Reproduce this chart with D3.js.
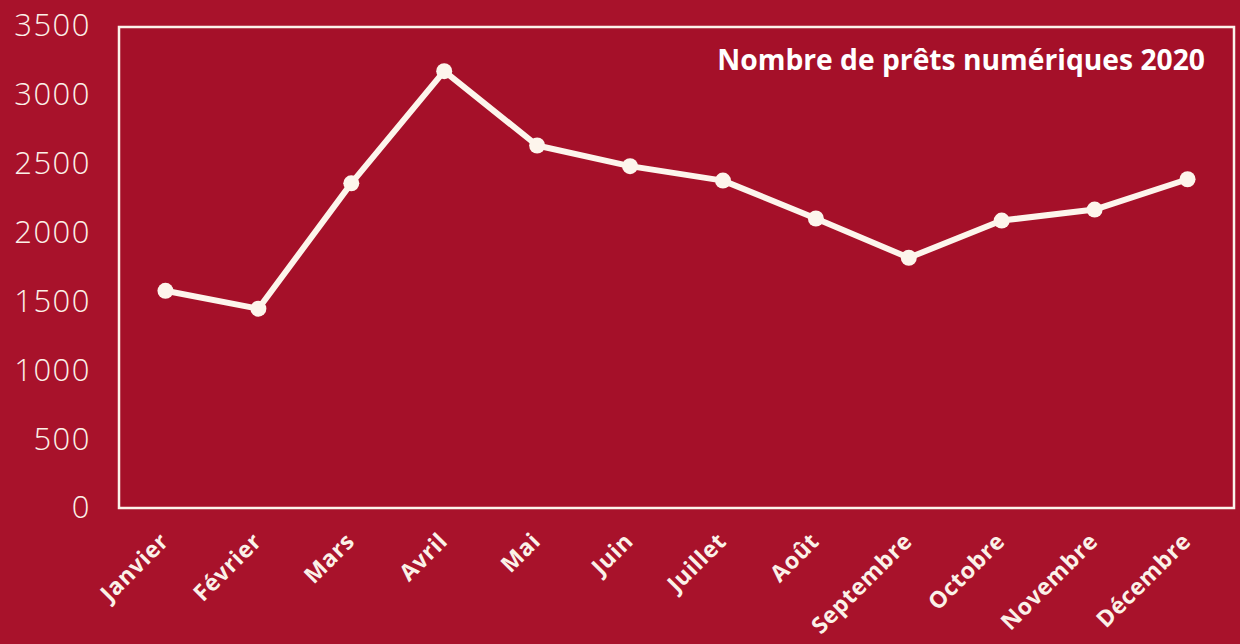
<!DOCTYPE html>
<html><head><meta charset="utf-8">
<script src="https://cdn.jsdelivr.net/npm/d3@7"></script>
<style>
html,body{margin:0;padding:0;background:#a7112a;}
svg{display:block;}
</style></head>
<body><svg id="c" width="1240" height="644"></svg>
<script>
const months = ["Janvier","Février","Mars","Avril","Mai","Juin","Juillet","Août","Septembre","Octobre","Novembre","Décembre"];
const loans = [1570, 1440, 2350, 3165, 2625, 2475, 2370, 2095, 1810, 2080, 2160, 2380];
const yTicks = [0, 500, 1000, 1500, 2000, 2500, 3000, 3500];
const title = "Nombre de prêts numériques 2020";

const svg = d3.select("#c");
const W = 1240, H = 644;
const box = {l:119, r:1234, t:27, b:508};

svg.append("rect").attr("width",W).attr("height",H).attr("fill","#a8122b");
svg.append("rect").attr("x",box.l).attr("y",box.t).attr("width",box.r-box.l).attr("height",box.b-box.t)
  .attr("fill","#a51029").attr("stroke","#fbf3ea").attr("stroke-width",2.5);

const x = d3.scaleBand().domain(months).range([box.l, box.r]).padding(0);
const y = d3.scaleLinear().domain([0,3500]).range([507, 25]);

// y axis
const yAxis = svg.append("g").attr("transform","translate(91,0)")
  .call(d3.axisLeft(y).tickValues(yTicks).tickSize(0).tickPadding(0).tickFormat(d3.format("d")));
yAxis.select(".domain").remove();
yAxis.selectAll("text").attr("fill","#fbf1e8").attr("font-family","'Open Sans'").attr("font-weight",300)
  .attr("font-size",31).attr("letter-spacing",1.5).attr("dy","0.35em").attr("text-anchor","end").attr("x",0);

// x axis
const xAxis = svg.append("g")
  .call(d3.axisBottom(x).tickSize(0).tickPadding(0));
xAxis.select(".domain").remove();
xAxis.selectAll(".tick").attr("transform", d => `translate(${x(d)+x.bandwidth()/2},0)`);
xAxis.selectAll("text").attr("fill","#fbf1e8").attr("font-family","'Open Sans'").attr("font-weight",700)
  .attr("font-size",23).attr("letter-spacing",0.6).attr("text-anchor","end").attr("y",0).attr("dy","0.35em")
  .attr("transform","translate(-1,537) rotate(-45)");

// line
const cx = d => x(d.m) + x.bandwidth()/2;
const data = months.map((m,i)=>({m, v:loans[i]}));
svg.append("path").datum(data)
  .attr("d", d3.line().x(cx).y(d=>y(d.v)))
  .attr("fill","none").attr("stroke","#fdf5ec").attr("stroke-width",6).attr("stroke-linejoin","round");
svg.selectAll("circle.pt").data(data).join("circle").attr("class","pt")
  .attr("cx",cx).attr("cy",d=>y(d.v)).attr("r",8).attr("fill","#fdf5ec");

// title
const t = svg.append("text").attr("x",1205).attr("y",70).attr("text-anchor","end")
  .attr("font-family","'Open Sans'").attr("font-weight",700).attr("font-size",26)
  .attr("fill","#ffffff").text(title);
const len = t.node().getComputedTextLength();
t.attr("font-size", 26*488/len);
</script></body></html>
